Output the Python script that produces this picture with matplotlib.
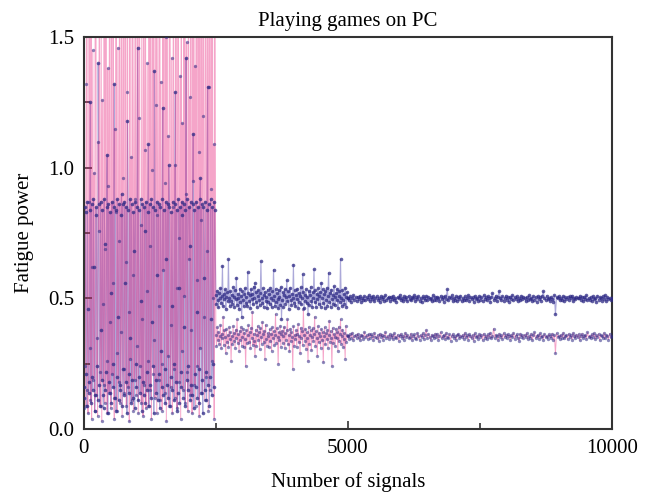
import numpy as np
import matplotlib.pyplot as plt
from matplotlib.ticker import MultipleLocator

# values in thousandths
# segment 1: 0-2480 (chaotic), segment 2: 2500-5000, segment 3: 5000-10000
pink_early = [80, 1600, 240, 90, 1320, 2100, 150, 60, 870, 1900, 310, 110, 2250, 40, 620, 1450, 190, 980, 70, 1750,
              2400, 130, 350, 50, 1100, 760, 1980, 220, 90, 1540, 30, 1260, 480, 170, 2050, 100, 690, 1820, 260, 60,
              1380, 930, 140, 2300, 410, 80, 1670, 210, 560, 1990, 120, 40, 1150, 830, 2150, 290, 70, 1460, 180, 720,
              2450, 100, 370, 1580, 50, 960, 2080, 230, 140, 1720, 640, 90, 1290, 2200, 160, 450, 30, 1850, 270, 1040,
              110, 2350, 590, 70, 1510, 190, 880, 2000, 130, 320, 1690, 60, 1190, 2280, 240, 780, 100, 1620, 420, 50,
              1930, 170, 1070, 2120, 80, 530, 1400, 260, 90, 2380, 700, 150, 1780, 40, 990, 1560, 210, 2010, 340, 120,
              1240, 2270, 60, 820, 1640, 190, 470, 2140, 110, 1330, 250, 70, 1890, 610, 2420, 140, 940, 1500, 30, 2060,
              280, 1120, 90, 1760, 2310, 160, 400, 1420, 60, 850, 2190, 230, 1010, 120, 1950, 540, 80, 1590, 2260, 180,
              730, 1350, 40, 2090, 300, 1170, 150, 1820, 510, 2400, 100, 900, 1480, 220, 70, 2020, 650, 1270, 130, 2330,
              380, 60, 1700, 950, 2170, 170, 1390, 90, 2480, 570, 240, 1610, 1060, 50, 1960, 310, 800, 2230, 140, 1200,
              2070, 430, 110, 1530, 2360, 200, 680, 1840, 70, 1310, 2150, 150, 920, 1710, 260, 2290, 500, 1090, 40, 1880]
blue_early = [160, 120, 850, 830, 210, 90, 870, 460, 140, 180, 840, 1250, 100, 860, 200, 150, 880, 620, 70, 130,
              850, 820, 240, 110, 1400, 860, 170, 90, 870, 380, 190, 840, 130, 80, 880, 710, 150, 220, 850, 1050,
              60, 860, 180, 140, 830, 520, 100, 870, 250, 160, 850, 1320, 120, 840, 70, 200, 880, 430, 110, 860,
              170, 150, 820, 900, 90, 860, 230, 130, 870, 560, 180, 850, 60, 1180, 840, 140, 210, 880, 350, 100,
              860, 190, 120, 830, 680, 80, 870, 250, 160, 850, 1460, 110, 840, 200, 140, 880, 490, 70, 860, 180,
              130, 850, 760, 100, 870, 220, 150, 830, 1090, 90, 860, 170, 120, 880, 410, 240, 850, 60, 1370, 840,
              190, 140, 870, 590, 110, 860, 210, 80, 850, 300, 160, 880, 1230, 130, 840, 230, 100, 870, 650, 170,
              860, 120, 1010, 850, 90, 200, 830, 470, 150, 870, 250, 110, 860, 1290, 180, 840, 70, 140, 880, 540,
              100, 850, 220, 160, 870, 820, 120, 860, 390, 90, 840, 1420, 190, 880, 150, 240, 850, 700, 110, 870,
              170, 130, 860, 1130, 80, 840, 210, 160, 870, 450, 120, 850, 230, 100, 880, 960, 140, 860, 190, 60,
              850, 580, 150, 870, 220, 110, 840, 1310, 170, 860, 90, 200, 880, 420, 130, 850, 250, 160, 870, 840]
blue_mid = [512, 478, 530, 495, 466, 521, 503, 540, 482, 509, 625, 470, 517, 498, 535, 461, 507, 524, 489, 650,
            501, 473, 528, 492, 515, 480, 545, 505, 468, 533, 497, 580, 476, 519, 502, 460, 538, 488, 511, 430,
            527, 494, 470, 516, 540, 483, 506, 471, 600, 522, 490, 513, 464, 536, 499, 518, 477, 545, 503, 560,
            486, 525, 467, 509, 531, 495, 474, 520, 642, 500, 482, 539, 469, 512, 526, 491, 505, 462, 534, 488,
            517, 479, 541, 503, 466, 528, 494, 610, 511, 472, 537, 485, 520, 498, 463, 531, 507, 476, 544, 420,
            496, 523, 468, 513, 535, 480, 506, 570, 489, 527, 461, 510, 541, 493, 475, 519, 502, 630, 484, 532,
            470, 514, 497, 538, 465, 521, 488, 509, 543, 477, 501, 592, 526, 463, 515, 490, 536, 481, 507, 440,
            529, 474, 512, 545, 492, 468, 523, 500, 611, 485, 531, 466, 518, 497, 540, 478, 508, 525, 469, 560,
            503, 535, 482, 516, 462, 527, 495, 540, 473, 510, 598, 488, 522, 467, 534, 499, 514, 479, 546, 505,
            476, 520, 493, 537, 464, 511, 528, 486, 650, 502, 471, 533, 496, 517, 480, 542, 506, 468, 524, 500]
pink_mid = [362, 318, 391, 340, 372, 325, 355, 398, 309, 366, 347, 430, 322, 378, 351, 290, 384, 333, 360, 315,
            389, 344, 370, 260, 357, 326, 395, 338, 368, 312, 381, 349, 420, 330, 363, 300, 376, 341, 392, 320,
            354, 385, 316, 369, 345, 240, 378, 329, 361, 397, 335, 372, 310, 388, 350, 450, 323, 366, 339, 280,
            381, 318, 359, 394, 342, 371, 305, 386, 352, 327, 410, 364, 334, 376, 270, 399, 346, 320, 368, 357,
            313, 382, 337, 365, 300, 390, 348, 374, 321, 360, 440, 331, 387, 354, 250, 370, 340, 396, 316, 363,
            377, 328, 356, 392, 310, 367, 343, 380, 420, 324, 359, 298, 385, 336, 371, 352, 230, 393, 319, 361,
            345, 379, 314, 366, 402, 333, 357, 290, 388, 350, 375, 322, 460, 362, 339, 384, 308, 370, 347, 260,
            391, 326, 360, 378, 302, 353, 386, 337, 365, 430, 319, 374, 348, 280, 395, 332, 369, 355, 311, 383,
            340, 372, 256, 358, 390, 324, 367, 344, 380, 310, 361, 415, 335, 376, 350, 240, 387, 329, 364, 352,
            318, 385, 347, 371, 300, 392, 338, 363, 420, 327, 358, 381, 313, 369, 345, 270, 396, 334, 360, 355]
blue_late = [503, 494, 509, 488, 500, 512, 496, 505, 490, 507, 498, 511, 487, 502, 495, 508, 493, 504, 499, 513,
             491, 506, 497, 510, 489, 501, 508, 494, 503, 486, 509, 499, 505, 492, 512, 496, 500, 507, 490, 504,
             498, 511, 493, 502, 488, 506, 500, 514, 495, 503, 491, 508, 497, 505, 489, 510, 499, 494, 507, 501,
             512, 490, 504, 497, 509, 492, 503, 486, 508, 500, 495, 511, 493, 506, 498, 502, 489, 513, 496, 505,
             494, 507, 501, 491, 510, 497, 504, 488, 509, 499, 535, 493, 506, 500, 512, 490, 503, 496, 508, 492,
             505, 498, 511, 489, 502, 495, 508, 494, 500, 513, 491, 506, 497, 504, 487, 510, 499, 503, 492, 509,
             496, 504, 490, 512, 498, 505, 493, 509, 501, 487, 507, 520, 495, 502, 511, 489, 506, 530, 503, 494,
             508, 492, 501, 510, 496, 504, 488, 507, 499, 513, 493, 505, 498, 509, 490, 502, 494, 511, 497, 506,
             500, 489, 507, 495, 512, 498, 503, 491, 509, 496, 505, 487, 510, 499, 504, 492, 508, 527, 501, 494,
             511, 497, 503, 490, 506, 499, 488, 512, 440, 505, 500, 509, 493, 502, 496, 510, 491, 504, 498, 507,
             493, 508, 500, 511, 489, 503, 497, 506, 500, 501, 510, 495, 504, 490, 507, 498, 512, 494, 502, 496,
             505, 491, 509, 498, 503, 487, 511, 496, 504, 500, 492, 508, 497, 513, 490, 506, 499, 502, 495, 503]
pink_late = [358, 346, 364, 350, 369, 342, 355, 361, 348, 366, 353, 340, 362, 357, 345, 371, 351, 359, 344, 365,
             349, 363, 356, 341, 368, 352, 347, 360, 338, 366, 354, 362, 343, 357, 370, 349, 355, 346, 364, 351,
             360, 344, 367, 353, 348, 362, 339, 356, 365, 350, 358, 343, 369, 352, 361, 347, 354, 366, 341, 357,
             363, 350, 345, 368, 355, 342, 360, 352, 367, 346, 359, 380, 349, 364, 354, 340, 362, 356, 348, 366,
             351, 365, 343, 358, 370, 347, 355, 361, 344, 368, 353, 349, 363, 339, 357, 364, 350, 356, 342, 360,
             366, 348, 357, 353, 362, 345, 369, 351, 359, 343, 364, 355, 347, 361, 338, 367, 352, 358, 346, 363,
             354, 361, 341, 366, 350, 358, 344, 363, 352, 369, 347, 356, 385, 349, 362, 355, 340, 365, 353, 359,
             345, 367, 352, 360, 348, 364, 356, 342, 361, 351, 368, 346, 357, 363, 350, 339, 366, 354, 359, 347,
             362, 353, 368, 344, 356, 350, 365, 341, 359, 370, 348, 355, 362, 345, 367, 352, 358, 343, 364, 351,
             357, 346, 363, 355, 349, 366, 342, 360, 290, 367, 353, 358, 345, 362, 350, 369, 347, 356, 361, 344,
             365, 352, 359, 343, 368, 356, 348, 362, 351, 364, 340, 357, 366, 349, 355, 361, 346, 370, 353, 358,
             348, 363, 354, 367, 345, 359, 352, 365, 341, 360, 357, 350, 368, 347, 362, 355, 343, 366, 351, 356]

segments = [(0, 2480), (2500, 5000), (5000, 10000)]


def series(parts):
    xs, ys = [], []
    for (a, b), vals in zip(segments, parts):
        xs.append(np.linspace(a, b, len(vals)))
        ys.append(np.array(vals) / 1000.0)
    return np.concatenate(xs), np.concatenate(ys)


xb, yb = series([blue_early, blue_mid, blue_late])
xp, yp = series([pink_early, pink_mid, pink_late])

plt.rcParams['font.family'] = 'Liberation Serif'
fig = plt.figure(figsize=(6.55, 4.95), dpi=100)
ax = fig.add_axes([0.128, 0.133, 0.806, 0.792])

navy = '#2e2a85'
ax.plot(xb, yb, color='#5a55b5', lw=0.8, alpha=0.5, zorder=1)
ax.plot(xp, yp, color='#e8207a', lw=0.7, alpha=0.4, zorder=2)
ax.plot(xb, yb, ls='none', marker='o', ms=2.6, mec='none', mfc=navy, alpha=0.75, zorder=3)
ax.plot(xp, yp, ls='none', marker='o', ms=2.4, mec='none', mfc=navy, alpha=0.55, zorder=3)

ax.set_xlim(0, 10000)
ax.set_ylim(0, 1.5)
ax.set_xticks([0, 5000, 10000])
ax.xaxis.set_minor_locator(MultipleLocator(2500))
ax.set_yticks([0, 0.5, 1.0, 1.5])
ax.set_yticklabels(['0.0', '0.5', '1.0', '1.5'])
ax.yaxis.set_minor_locator(MultipleLocator(0.25))
ax.tick_params(which='both', direction='in', labelsize=15, width=1.2, colors='#333333', labelcolor='black')
ax.tick_params(which='major', length=6, pad=7)
ax.tick_params(which='minor', length=4)
for s in ax.spines.values():
    s.set_linewidth(1.5)
    s.set_color('#333333')

ax.set_title('Playing games on PC', fontsize=15, pad=8)
ax.set_xlabel('Number of signals', fontsize=15, labelpad=10)
ax.set_ylabel('Fatigue power', fontsize=15, labelpad=10)

fig.savefig('out.png', dpi=100)
